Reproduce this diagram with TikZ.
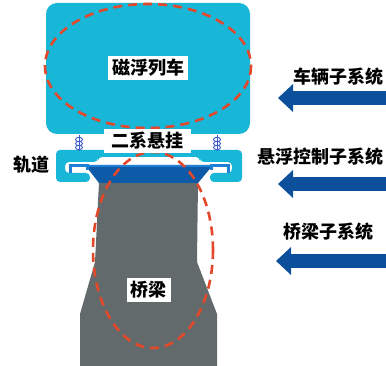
\documentclass[tikz,border=0pt]{standalone}
\usepackage{fontspec}
\newfontfamily\cjk{Noto Sans CJK SC}
\usepackage{tikz}
\usetikzlibrary{arrows.meta,positioning}
\definecolor{carcyan}{RGB}{24,182,215}
\definecolor{railblue}{RGB}{30,128,212}
\definecolor{guideblue}{RGB}{12,90,168}
\definecolor{arrowblue}{RGB}{12,80,155}
\definecolor{piergray}{RGB}{98,106,107}
\definecolor{ringred}{RGB}{228,72,42}
\definecolor{springblue}{RGB}{60,90,205}
\tikzset{
  textlabel/.style={font=\cjk\bfseries\fontsize{18}{20}\selectfont,inner sep=0pt},
  labelbox/.style={textlabel,fill=white,inner xsep=4pt,inner ysep=3pt},
  dashring/.style={draw=ringred,line width=2.6pt,dash pattern=on 9pt off 6pt},
  subarrow/.style={draw=arrowblue,line width=14pt,-{Triangle[length=15pt,width=27pt]}},
  springcoil/.style={draw=springblue,line width=0.9pt}
}

\begin{document}
\begin{tikzpicture}[x=1pt,y=-1pt]
  \useasboundingbox (0,0) rectangle (386,366);
  % vehicle body
  \fill[carcyan,rounded corners=11pt] (46,3) rectangle (250,134);
  % levitation frame with C-shaped ends
  \fill[carcyan,rounded corners=4pt] (56,150) -- (242,150) -- (242,182) -- (210,182)
    -- (210,173) -- (232,173) -- (232,162) -- (200,162) -- (200,157) -- (98,157)
    -- (98,162) -- (65,162) -- (65,173) -- (90,173) -- (90,182) -- (56,182) -- cycle;
  % bridge pier
  \fill[piergray] (99,182) -- (198,182) -- (197,262) -- (217,314) -- (217,366)
    -- (80,366) -- (80,314) -- (95,262) -- cycle;
  % guideway
  \fill[guideblue] (85,165) -- (213,165) -- (198,183) -- (99,183) -- cycle;
  \draw[railblue,line width=3pt] (70,173) -- (70,165.5) -- (87,165.5) -- (87,170);
  \draw[railblue,line width=3pt] (211,170) -- (211,165.5) -- (228,165.5) -- (228,173);
  \draw[railblue,line width=1.5pt] (87,166) -- (211,166);
  % secondary suspension springs
  \foreach \sx in {79,217} {
    \draw[springcoil] (\sx,135) -- (\sx,151);
    \foreach \sy in {139.5,143.5,147.5}
      \draw[springcoil] (\sx,\sy) ellipse (3.5 and 2.2);
  }
  % subsystem outlines
  \draw[dashring] (148,66) ellipse (103 and 62);
  \draw[dashring] (153,250) ellipse (60 and 98);
  \node[labelbox] (train) at (148,68) {磁浮列车};
  \node[labelbox,minimum width=87pt,minimum height=24pt] (susp) at (147,141) {二系悬挂};
  \node[textlabel] (track) at (31,165) {轨道};
  \node[labelbox] (pier) at (148.5,290) {桥梁};
  % subsystem arrows
  \node[textlabel] (vehsys) at (338,77) {车辆子系统};
  \node[textlabel] (ctrlsys) at (320,157) {悬浮控制子系统};
  \node[textlabel] (bridgesys) at (328,232) {桥梁子系统};
  \coordinate (vehin) at (386,98);
  \coordinate (vehout) at (278,98);
  \coordinate (ctrlin) at (386,184);
  \coordinate (ctrlout) at (278,184);
  \coordinate (bridgein) at (386,261);
  \coordinate (bridgeout) at (276,261);
  \draw[subarrow] (vehin) -- (vehout);
  \draw[subarrow] (ctrlin) -- (ctrlout);
  \draw[subarrow] (bridgein) -- (bridgeout);
\end{tikzpicture}
\end{document}
